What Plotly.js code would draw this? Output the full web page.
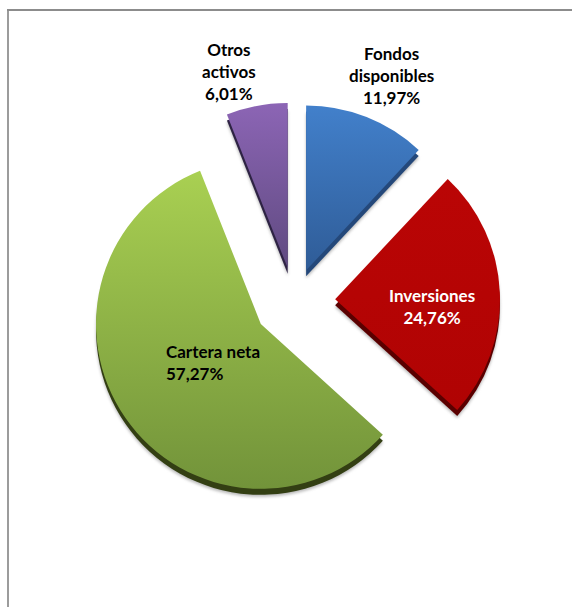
<!DOCTYPE html>
<html><head><meta charset="utf-8"><script src="https://cdn.plot.ly/plotly-3.0.0.min.js"></script>
<style>html,body{margin:0;padding:0;background:#fff}</style></head><body><div id="c" style="width:572px;height:607px"></div>
<script>
const categories=["Fondos disponibles","Inversiones","Cartera neta","Otros activos"];
const values=[11.97,24.76,57.27,6.01];
const labels=["<b>Fondos<br>disponibles<br>11,97%</b>","<b>Inversiones<br>24,76%</b>","<b>Cartera neta<br>57,27%</b>","<b>Otros<br>activos<br>6,01%</b>"];
const topColors=["#4280cb","#ba0505","#a9d052","#8c65b5"];
const bottomColors=["#2f5c97","#b00303","#72933a","#5f4a80"];
const edgeColors=["#24487a","#5a0000","#333f13","#2e2344"];
const shadowColors=["#b8b8b8","#b8b8b8","#b8b8b8","#b8b8b8"];
const pulls=[0.2,0.25,0.245,0.205];
const W=572,H=607,CX=294,CY=301,S=206;
function dom(dy){return {x:[(CX-S)/W,(CX+S)/W],y:[1-(CY+S+dy)/H,1-(CY-S+dy)/H]};}
function pie(cols,dy){return {type:'pie',labels:categories,values:values,sort:false,direction:'clockwise',rotation:0,pull:pulls,
 marker:{colors:cols,line:{width:0}},textinfo:'none',hoverinfo:'skip',domain:dom(dy)};}
const line=(x0,y0,x1,y1,c)=>({type:'line',xref:'paper',yref:'paper',x0:x0/W,x1:x1/W,y0:1-y0/H,y1:1-y1/H,line:{color:c,width:2}});
Plotly.newPlot('c',[pie(shadowColors,8),pie(edgeColors,6),pie(topColors,0)],
{width:W,height:H,showlegend:false,margin:{l:0,r:0,t:0,b:0},paper_bgcolor:'#fff',
font:{family:'Lato, "Open Sans", sans-serif',size:17,color:'#000'},
shapes:[line(8,10,8,607,'#9c9c9c'),line(7,10,572,10,'#8c8c8c')],
annotations:[
{x:391/W,y:1-75/H,text:labels[0]},{x:432/W,y:1-306/H,text:labels[1],font:{color:'#fff'}},
{x:164/W,y:1-362/H,text:labels[2],xanchor:'left',align:'left'},{x:229/W,y:1-72/H,text:labels[3]}
].map(a=>({xref:'paper',yref:'paper',showarrow:false,align:'center',xanchor:'center',yanchor:'middle',...a}))},{displayModeBar:false,staticPlot:true}).then(gd=>{
 const svg=gd.querySelector('svg.main-svg');
 const NS='http://www.w3.org/2000/svg';
 const defs=document.createElementNS(NS,'defs');
 topColors.forEach((c,i)=>{
  const g=document.createElementNS(NS,'linearGradient');
  g.setAttribute('id','grad'+i);g.setAttribute('x1','0');g.setAttribute('y1','0');g.setAttribute('x2','0');g.setAttribute('y2','1');
  [[0,c],[1,bottomColors[i]]].forEach(([o,col])=>{const s=document.createElementNS(NS,'stop');s.setAttribute('offset',o);s.setAttribute('stop-color',col);g.appendChild(s);});
  defs.appendChild(g);
 });
 svg.insertBefore(defs,svg.firstChild);
 const traces=gd.querySelectorAll('.pielayer .trace');
 traces[0].style.filter='blur(1.5px)';
 traces[2].querySelectorAll('path.surface').forEach((p,i)=>{p.style.fill='url(#grad'+i+')';});
});
</script></body></html>
